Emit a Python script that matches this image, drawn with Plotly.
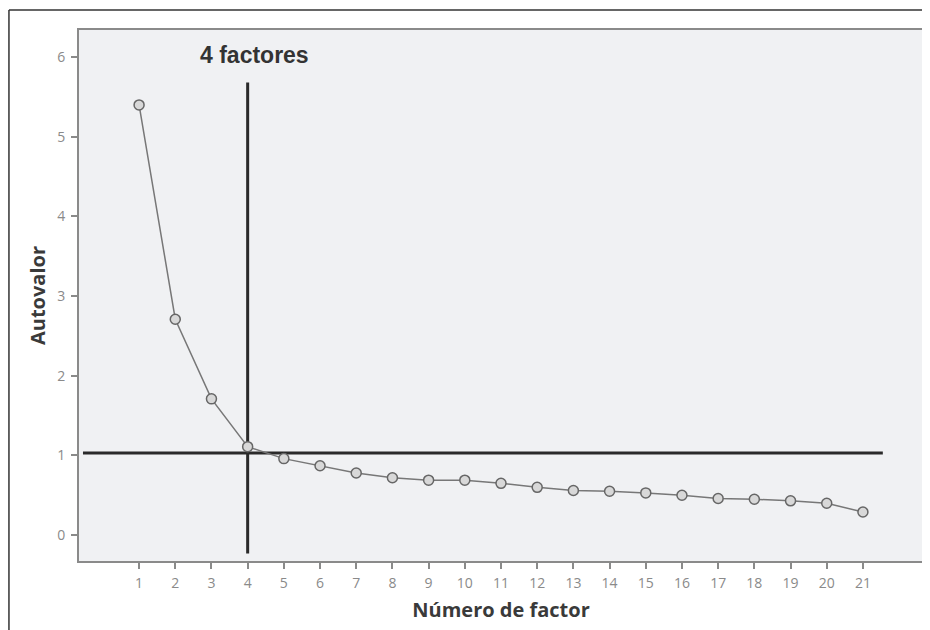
import plotly.graph_objects as go

factors = list(range(1, 22))
eigenvalues = [5.40, 2.71, 1.71, 1.11, 0.96, 0.87, 0.78, 0.72, 0.69, 0.69, 0.65,
               0.60, 0.56, 0.55, 0.53, 0.50, 0.46, 0.45, 0.43, 0.40, 0.29]
y_ticks = [0, 1, 2, 3, 4, 5, 6]
cutoff_factor = 4
cutoff_value = 1.03
label_text = "4 factores"

fig = go.Figure()

# reference lines
fig.add_trace(go.Scatter(x=[-0.55, 21.55], y=[cutoff_value, cutoff_value], mode="lines",
                         line=dict(color="#2a2a2a", width=3), hoverinfo="skip", showlegend=False))
fig.add_trace(go.Scatter(x=[cutoff_factor, cutoff_factor], y=[-0.23, 5.68], mode="lines",
                         line=dict(color="#2a2a2a", width=3), hoverinfo="skip", showlegend=False))

fig.add_trace(go.Scatter(
    x=factors, y=eigenvalues, mode="lines+markers",
    line=dict(color="#777777", width=1.5),
    marker=dict(symbol="circle", size=10, color="#d8d8d8", line=dict(color="#666666", width=1.5)),
    showlegend=False))

fig.add_annotation(x=4.18, y=6.02, xref="x", yref="y", text=f"<b>{label_text}</b>",
                   showarrow=False, font=dict(family="Liberation Sans, Arial", size=23, color="#333333"))

# outer frame
fig.add_shape(type="line", xref="paper", yref="paper", x0=-0.083, x1=1.03, y0=1.0377, y1=1.0377,
              line=dict(color="#333333", width=1.5))
fig.add_shape(type="line", xref="paper", yref="paper", x0=-0.083, x1=-0.083, y0=1.0377, y1=-0.16,
              line=dict(color="#333333", width=1.5))

fig.update_layout(
    width=930, height=630,
    margin=dict(l=71, r=15, t=22, b=77),
    paper_bgcolor="white",
    plot_bgcolor="#f0f1f3",
    font=dict(family="Open Sans", color="#888888"),
)
fig.update_xaxes(
    range=[-0.66, 22.66], tickmode="array", tickvals=factors, ticktext=[str(f) for f in factors],
    showgrid=False, zeroline=False, showline=True, linecolor="#8a8a8a", linewidth=2, mirror=True,
    ticks="outside", ticklen=6, tickwidth=2, tickcolor="#8a8a8a",
    tickfont=dict(size=14, color="#8a8a8a"), ticklabelstandoff=2,
    title=dict(text="<b>Número de factor</b>", font=dict(size=20, color="#3a3a3a"), standoff=12),
)
fig.update_yaxes(
    range=[-0.325, 6.34], tickmode="array", tickvals=y_ticks, ticktext=[str(v) for v in y_ticks],
    showgrid=False, zeroline=False, showline=True, linecolor="#8a8a8a", linewidth=2, mirror=True,
    ticks="outside", ticklen=6, tickwidth=2, tickcolor="#8a8a8a",
    tickfont=dict(size=14, color="#8a8a8a"), ticklabelstandoff=3,
    title=dict(text="<b>Autovalor</b>", font=dict(size=20, color="#3a3a3a"), standoff=6),
)

fig.write_html("out.html")
